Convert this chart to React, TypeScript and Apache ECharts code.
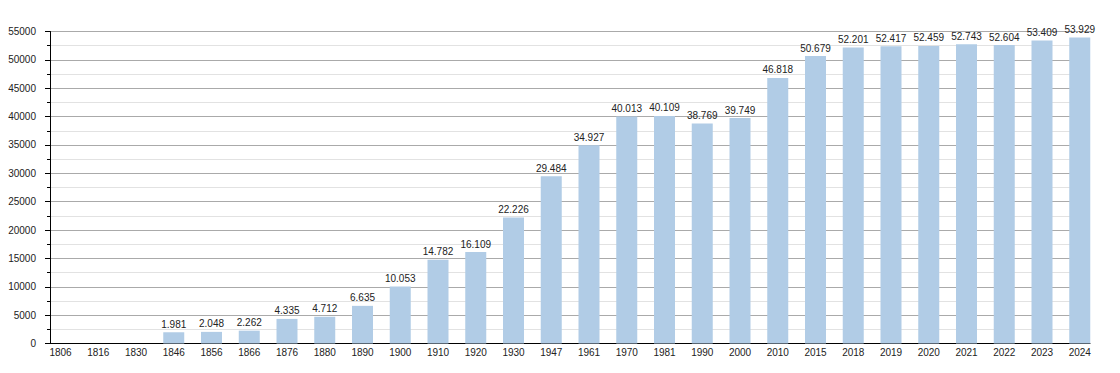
import React, { useEffect, useRef } from "react";
import * as echarts from "echarts";

const years = ["1806","1816","1830","1846","1856","1866","1876","1880","1890","1900","1910","1920","1930","1947","1961","1970","1981","1990","2000","2010","2015","2018","2019","2020","2021","2022","2023","2024"];
const population: (number | null)[] = [null,null,null,1981,2048,2262,4335,4712,6635,10053,14782,16109,22226,29484,34927,40013,40109,38769,39749,46818,50679,52201,52417,52459,52743,52604,53409,53929];
const yMin = 0;
const yMax = 55000;
const yStep = 5000;

const fmt = (v: number) => String(v).replace(/\B(?=(\d{3})+(?!\d))/g, ".");

export default function App() {
  const ref = useRef<HTMLDivElement>(null);
  useEffect(() => {
    if (!ref.current) return;
    const chart = echarts.init(ref.current, null, { renderer: "svg" });
    const font = "Liberation Sans, Arial, sans-serif";
    chart.setOption({
      animation: false,
      textStyle: { fontFamily: font },
      grid: [
        { left: 41.625, right: 21.375, top: 31.5, bottom: 29.5 },
        { left: 50, right: 30, top: 31.5, bottom: 29.5 },
      ],
      xAxis: [
        {
          type: "category",
          gridIndex: 0,
          data: years,
          boundaryGap: true,
          axisLine: { show: false },
          axisTick: { show: false },
          axisLabel: { fontSize: 10, color: "#222", margin: 4, interval: 0, fontFamily: font },
          splitLine: { show: false },
        },
        {
          type: "value",
          gridIndex: 1,
          min: 0,
          max: 1,
          axisLine: { show: true, lineStyle: { color: "#000", width: 1 } },
          axisTick: { show: false },
          axisLabel: { show: false },
          splitLine: { show: false },
        },
      ],
      yAxis: [
        { type: "value", gridIndex: 0, min: yMin, max: yMax, interval: yStep, show: false },
        {
          type: "value",
          gridIndex: 1,
          min: yMin,
          max: yMax,
          interval: yStep,
          axisLine: { show: true, lineStyle: { color: "#000", width: 1 } },
          axisTick: { show: true, length: 5, lineStyle: { color: "#000" } },
          minorTick: { show: true, splitNumber: 2, length: 3, lineStyle: { color: "#000" } },
          axisLabel: {
            fontSize: 10,
            color: "#222",
            margin: 14,
            fontFamily: font,
            formatter: (v: number) => String(v),
          },
          splitLine: { show: true, lineStyle: { color: "#aaaaaa", width: 1 } },
          minorSplitLine: { show: true, lineStyle: { color: "#e2e2e2", width: 1 } },
        },
      ],
      series: [
        {
          type: "bar",
          xAxisIndex: 0,
          yAxisIndex: 0,
          data: population,
          barWidth: 21,
          itemStyle: { color: "#b1cce6" },
          label: {
            show: true,
            position: "top",
            distance: 3,
            fontSize: 10,
            color: "#222",
            fontFamily: font,
            formatter: (p: any) => (p.value == null ? "" : fmt(p.value)),
          },
        },
      ],
    });
    return () => chart.dispose();
  }, []);
  return (
    <div
      ref={ref}
      style={{ position: "absolute", left: 0, top: 0, width: 1120, height: 373, background: "#fff" }}
    />
  );
}
